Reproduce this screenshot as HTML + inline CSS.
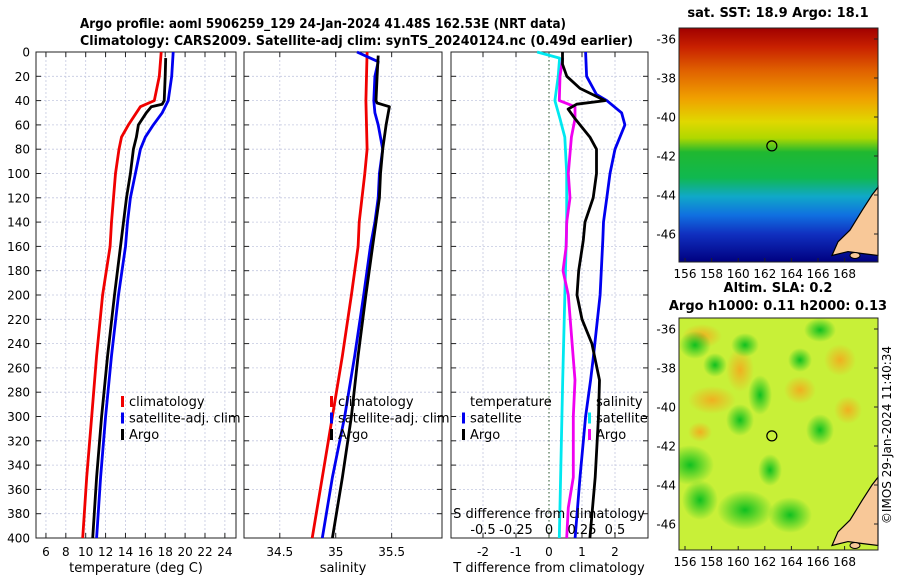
<!DOCTYPE html>
<html><head><meta charset="utf-8"><style>
body{margin:0;background:#fff;}
svg{display:block;font-family:"DejaVu Sans","Liberation Sans",sans-serif;}
</style></head><body>
<svg id="fig" width="900" height="580" viewBox="0 0 900 580">
<defs>
<linearGradient id="sst" x1="0" y1="0" x2="0" y2="1">
<stop offset="0" stop-color="#a00000"/><stop offset="0.08" stop-color="#c82000"/><stop offset="0.18" stop-color="#e06000"/>
<stop offset="0.3" stop-color="#f0a000"/><stop offset="0.4" stop-color="#e0d800"/><stop offset="0.47" stop-color="#b0d800"/>
<stop offset="0.53" stop-color="#20b830"/><stop offset="0.64" stop-color="#10b850"/><stop offset="0.72" stop-color="#10a8c8"/>
<stop offset="0.8" stop-color="#1070e0"/><stop offset="0.88" stop-color="#1030c0"/><stop offset="1" stop-color="#000080"/>
</linearGradient>
<radialGradient id="org"><stop offset="0" stop-color="#f0b020"/><stop offset="1" stop-color="#f0b020" stop-opacity="0"/></radialGradient>
<radialGradient id="grn"><stop offset="0" stop-color="#10c020"/><stop offset="1" stop-color="#10c020" stop-opacity="0"/></radialGradient>
<clipPath id="m1"><rect x="679" y="28" width="199" height="234"/></clipPath>
<clipPath id="m2"><rect x="679" y="318" width="199" height="232"/></clipPath>
</defs>
<g id="root"></g>
</svg>
<script>
// ---- data ----
const tClimDepth=[0,20,40,45,60,70,80,100,120,140,160,200,250,300,350,400];
const tClim=[17.6,17.4,16.9,15.5,14.3,13.6,13.35,13.0,12.8,12.6,12.45,11.7,11.1,10.6,10.1,9.7];
const tSatDepth=[0,20,40,45,50,60,70,80,100,120,140,160,200,250,300,350,400];
const tSat=[18.8,18.65,18.3,18.0,17.7,16.8,16.0,15.5,15.0,14.5,14.2,14.0,13.3,12.6,12.0,11.5,11.1];
const tArgoDepth=[5,20,40,43,45,50,60,70,80,100,120,140,160,200,250,300,350,400];
const tArgo=[18.05,18.0,17.9,17.7,16.6,16.1,15.3,15.1,14.8,14.5,14.1,13.8,13.5,12.9,12.2,11.6,11.1,10.7];
const sClimDepth=[0,40,80,100,140,160,200,250,300,350,400];
const sClim=[35.28,35.27,35.28,35.26,35.21,35.2,35.14,35.06,34.97,34.88,34.79];
const sSatDepth=[0,8,20,40,50,60,80,100,120,140,160,200,250,300,350,400];
const sSat=[35.19,35.38,35.35,35.34,35.35,35.38,35.42,35.39,35.38,35.35,35.31,35.25,35.17,35.08,34.97,34.88];
const sArgoDepth=[3,20,40,42,45,50,60,80,100,120,140,160,200,250,300,350,400];
const sArgo=[35.38,35.37,35.36,35.37,35.48,35.47,35.45,35.42,35.40,35.39,35.36,35.33,35.27,35.2,35.14,35.06,34.97];
const dTSatDepth=[0,20,35,40,50,60,80,100,120,140,155,200,250,270,300,350,400];
const dTSat=[1.11,1.14,1.44,1.75,2.2,2.3,2.0,1.85,1.75,1.65,1.63,1.55,1.35,1.26,1.11,0.94,0.79];
const dTArgoDepth=[0,10,20,30,40,43,47,55,70,80,100,120,140,155,180,200,220,240,270,300,350,400];
const dTArgo=[0.41,0.41,0.54,0.94,1.7,0.84,0.58,0.79,1.24,1.44,1.44,1.34,1.09,1.04,0.9,0.85,1.0,1.3,1.53,1.5,1.4,1.24];
const dSSatDepth=[0,5,20,40,55,70,100,140,270,400];
const dSSat=[-0.09,0.08,0.07,0.045,0.083,0.12,0.134,0.134,0.104,0.078];
const dSArgoDepth=[5,20,40,45,55,70,100,120,140,160,180,200,270,300,350,375,400];
const dSArgo=[0.104,0.083,0.078,0.197,0.197,0.17,0.146,0.159,0.134,0.13,0.106,0.146,0.197,0.184,0.184,0.146,0.134];
const depthTicks=[0,20,40,60,80,100,120,140,160,180,200,220,240,260,280,300,320,340,360,380,400];
const tTicks=[6,8,10,12,14,16,18,20,22,24];
const sTicks=[34.5,35,35.5];
const dTTicks=[-2,-1,0,1,2];
const dSTicks=[-0.5,-0.25,0,0.25,0.5];
const dSTickLabels=["-0.5","-0.25","0","0.25","0.5"];
const latTicks=[-36,-38,-40,-42,-44,-46];
const lonTicks=[156,158,160,162,164,166,168];
const argoLon=162.53, argoLat=-41.48;

// ---- helpers ----
const NS="http://www.w3.org/2000/svg";
const root=document.getElementById('root');
function mk(tag,attrs,parent){const e=document.createElementNS(NS,tag);for(const k in attrs)e.setAttribute(k,attrs[k]);(parent||root).appendChild(e);return e;}
function txt(x,y,s,size,anchor,weight){const e=mk('text',{x:x,y:y,'font-size':size,'text-anchor':anchor||'middle','font-weight':weight||'normal',fill:'#000'});e.textContent=s;return e;}
const Y0=52,Y1=538;
const yD=d=>Y0+(d/400)*(Y1-Y0);
const P1={x0:36,x1:236,v0:5,v1:25.12};
const P2={x0:244,x1:442,v0:34.18,v1:35.95};
const P3={x0:451,x1:648,v0:-3,v1:3};
const xT=v=>P1.x0+(v-P1.v0)/(P1.v1-P1.v0)*(P1.x1-P1.x0);
const xS=v=>P2.x0+(v-P2.v0)/(P2.v1-P2.v0)*(P2.x1-P2.x0);
const xDT=v=>549+v*33;
const xDS=v=>549+v*132;

function panel(P,gridX,name){
  const g=mk('g',{});
  
  
  depthTicks.forEach(d=>{mk('line',{x1:P.x0,x2:P.x1,y1:yD(d),y2:yD(d),stroke:'#c4c8e0','stroke-width':0.8,'stroke-dasharray':'2,2'},g);});
  gridX.forEach(x=>{mk('line',{x1:x,x2:x,y1:Y0,y2:Y1,stroke:'#c4c8e0','stroke-width':0.8,'stroke-dasharray':'2,2'},g);});
  depthTicks.forEach(d=>{mk('line',{x1:P.x0,x2:P.x0+5,y1:yD(d),y2:yD(d),stroke:'#222'},g);mk('line',{x1:P.x1-5,x2:P.x1,y1:yD(d),y2:yD(d),stroke:'#222'},g);});
  gridX.forEach(x=>{mk('line',{x1:x,x2:x,y1:Y1,y2:Y1-5,stroke:'#222'},g);mk('line',{x1:x,x2:x,y1:Y0,y2:Y0+5,stroke:'#222'},g);});
  mk('rect',{x:P.x0,y:Y0,width:P.x1-P.x0,height:Y1-Y0,fill:'none',stroke:'#222','stroke-width':1},g);
  return g;
}
function line(xs,ds,fx,color,name,parent){
  const pts=xs.map((v,i)=>fx(v).toFixed(1)+','+yD(ds[i]).toFixed(1)).join(' ');
  const p=mk('polyline',{points:pts,fill:'none',stroke:color,'stroke-width':2.8,'stroke-linejoin':'round'},parent);
  
  
  return p;
}

// ---- titles ----
let t=txt(80,28,'Argo profile: aoml 5906259_129 24-Jan-2024 41.48S 162.53E (NRT data)',13,'start','bold');
t.setAttribute('textLength','486');
t.setAttribute('lengthAdjust','spacingAndGlyphs');


t=txt(80,45,'Climatology: CARS2009. Satellite-adj clim: synTS_20240124.nc (0.49d earlier)',13,'start','bold');
t.setAttribute('textLength','553');
t.setAttribute('lengthAdjust','spacingAndGlyphs');



// ---- panel 1 ----
const g1=panel(P1,tTicks.map(xT),'temperature-panel');
line(tClim,tClimDepth,xT,'#f00000','temp-climatology-line',g1);
line(tSat,tSatDepth,xT,'#0000f0','temp-satellite-line',g1);
line(tArgo,tArgoDepth,xT,'#000','temp-argo-line',g1);
depthTicks.forEach(d=>{const e=txt(30,yD(d)+4.5,String(d),12,'end');});
tTicks.forEach(v=>{const e=txt(xT(v),556,String(v),12);});
t=txt(136,572,'temperature (deg C)',13);
function legend(x,y,items,name){
  const g=mk('g',{});
  
  
  items.forEach((it,i)=>{
    if(it[1])mk('rect',{x:x,y:y+i*16.5-10,width:3,height:11,fill:it[1]},g);
    const e=mk('text',{x:x+8,y:y+i*16.5,'font-size':13,fill:'#000'},g);e.textContent=it[0];
  });
}
legend(121,406,[['climatology','#f00000'],['satellite-adj. clim','#0000f0'],['Argo','#000']],'temp-legend');

// ---- panel 2 ----
const g2=panel(P2,sTicks.map(xS),'salinity-panel');
line(sClim,sClimDepth,xS,'#f00000','sal-climatology-line',g2);
line(sSat,sSatDepth,xS,'#0000f0','sal-satellite-line',g2);
line(sArgo,sArgoDepth,xS,'#000','sal-argo-line',g2);
sTicks.forEach(v=>{const e=txt(xS(v),556,String(v),12);});
t=txt(343,572,'salinity',13);
legend(330,406,[['climatology','#f00000'],['satellite-adj. clim','#0000f0'],['Argo','#000']],'sal-legend');

// ---- panel 3 ----
const g3=panel(P3,dTTicks.map(xDT),'difference-panel');
mk('line',{x1:549,x2:549,y1:Y0,y2:Y1,stroke:'#2a5a2a','stroke-width':1,'stroke-dasharray':'1.5,2.5'},g3);
line(dSSat,dSSatDepth,xDS,'#00e8f0','sal-diff-satellite-line',g3);
line(dSArgo,dSArgoDepth,xDS,'#f000f0','sal-diff-argo-line',g3);
line(dTSat,dTSatDepth,xDT,'#0000f0','temp-diff-satellite-line',g3);
line(dTArgo,dTArgoDepth,xDT,'#000','temp-diff-argo-line',g3);
dTTicks.forEach(v=>{const e=txt(xDT(v),556,String(v),12);});
dSTicks.forEach((v,i)=>{const e=txt(xDS(v),534,dSTickLabels[i],13);});
t=txt(549,518,'S difference from climatology',13);
t=txt(549,572,'T difference from climatology',13);
legend(462,406,[['temperature',null],['satellite','#0000f0'],['Argo','#000']],'tdiff-legend');
legend(588,406,[['salinity',null],['satellite','#00e8f0'],['Argo','#f000f0']],'sdiff-legend');

// ---- maps ----
const MX0=679,MX1=878;
const lonX=l=>685+(l-156)*13.3;
function map(y0,y1,name,fillFn,title,titleBase){
  const g=mk('g',{});
  
  
  const latY=la=>y0+11+(-36-la)*19.5;
  fillFn(g);
  const land=mk('polygon',{points:`878,${latY(-43.6)} 872,${latY(-44.0)} 862,${latY(-44.8)} 850,${latY(-45.8)} 838,${latY(-46.4)} 832,${latY(-47.1)} 848,${latY(-46.9)} 862,${latY(-47.0)} 878,${latY(-47.1)}`,fill:'#f8c898',stroke:'#000','stroke-width':1.2},g);
  
  
  mk('ellipse',{cx:855,cy:latY(-47.1),rx:5,ry:3,fill:'#f8c898',stroke:'#000'},g);
  const dot=mk('circle',{cx:lonX(argoLon),cy:latY(argoLat),r:5,fill:'none',stroke:'#000','stroke-width':1.2},g);
  
  
  mk('rect',{x:MX0,y:y0,width:MX1-MX0,height:y1-y0,fill:'none',stroke:'#222'},g);
  latTicks.forEach(la=>{mk('line',{x1:MX1-4,x2:MX1,y1:latY(la),y2:latY(la),stroke:'#222'},g);const e=txt(676,latY(la)+4.5,String(la),12,'end');});
  lonTicks.forEach(l=>{mk('line',{x1:lonX(l),x2:lonX(l),y1:y1,y2:y1-4,stroke:'#222'},g);const e=txt(lonX(l),y1+16,String(l),12);});
  title.forEach((s,i)=>{const e=txt(778,titleBase-(title.length-1-i)*18,s,13,'middle','bold');});
}
map(28,262,'sst-map',g=>{
  const r=mk('rect',{x:MX0,y:28,width:199,height:234,fill:'url(#sst)'},g);
  r.setAttribute('clip-path','url(#m1)');
},['sat. SST: 18.9 Argo: 18.1'],17);
map(318,550,'sla-map',g=>{
  const c=mk('g',{'clip-path':'url(#m2)'},g);
  mk('rect',{x:MX0,y:318,width:199,height:232,fill:'#c8f038'},c);
  [[702,336,20,12],[740,370,14,22],[712,400,24,14],[840,360,16,16],[800,390,16,14],[848,410,14,14],[700,432,12,10]].forEach(b=>mk('ellipse',{cx:b[0],cy:b[1],rx:b[2],ry:b[3],fill:'url(#org)'},c));
  [[695,345,16,14],[745,345,14,12],[760,395,12,20],[740,420,14,16],[690,465,24,20],[745,510,28,20],[790,515,22,18],[770,470,12,16],[820,330,16,12],[715,365,12,12],[820,430,14,16],[800,360,12,12],[700,500,18,20]].forEach(b=>mk('ellipse',{cx:b[0],cy:b[1],rx:b[2],ry:b[3],fill:'url(#grn)'},c));
},['Altim. SLA: 0.2','Argo h1000: 0.11 h2000: 0.13'],310);
t=txt(0,0,'©IMOS 29-Jan-2024 11:40:34',12);
t.setAttribute('transform','translate(891,435) rotate(-90)');


</script>
</body></html>
